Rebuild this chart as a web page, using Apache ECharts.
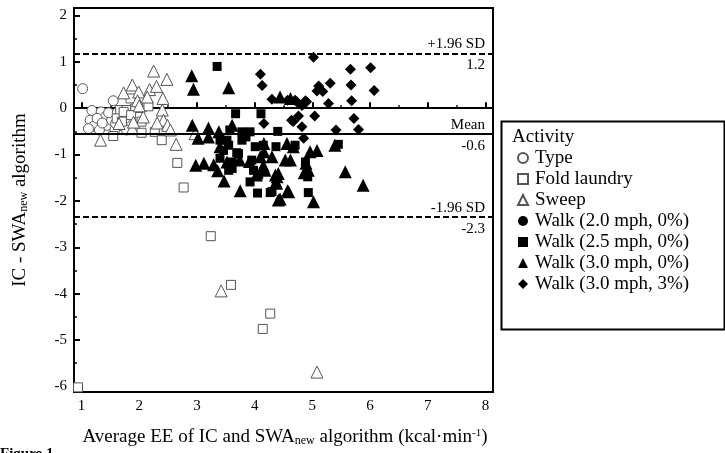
<!DOCTYPE html>
<html>
<head>
<meta charset="utf-8">
<script src="https://cdn.jsdelivr.net/npm/echarts@6/dist/echarts.min.js"></script>
<style>
  html, body { margin: 0; padding: 0; background: #fff; }
  #main { width: 725px; height: 453px; }
</style>
</head>
<body>
<div id="main"></div>
<script>
// tick labels
const xTicks = [1, 2, 3, 4, 5, 6, 7, 8];
const xMinor = [1.5, 2.5, 3.5, 4.5, 5.5, 6.5, 7.5];
const yTicks = [-6, -5, -4, -3, -2, -1, 0, 1, 2];
const yMinor = [-5.5, -4.5, -3.5, -2.5, -1.5, -0.5, 0.5, 1.5];

// limits of agreement: position, text above, text below
const limitValues = [1.17, -0.56, -2.35];
const limitNames = ['+1.96 SD', 'Mean', '-1.96 SD'];
const limitLabels = ['1.2', '-0.6', '-2.3'];

// [average EE, difference]
const typeData = [
  [1.02, 0.42], [1.55, 0.16], [1.18, -0.05], [1.34, -0.08], [1.15, -0.26],
  [1.21, -0.39], [1.41, -0.19], [1.44, -0.37], [1.31, -0.47], [1.58, -0.46],
  [1.12, -0.44], [1.52, -0.26], [1.67, -0.37], [1.76, -0.22], [1.78, -0.47],
  [1.27, -0.22], [1.59, -0.33], [1.47, -0.10], [1.62, -0.10], [1.36, -0.32]
];
const foldData = [
  [1.67, -0.04], [1.78, -0.04], [1.93, -0.01], [2.04, 0.02], [2.16, 0.04],
  [1.85, 0.21], [1.99, -0.19], [1.61, -0.22], [1.70, -0.29], [2.04, -0.29],
  [2.27, -0.51], [2.39, -0.69], [2.04, -0.53], [1.55, -0.60], [1.73, -0.08],
  [1.86, -0.15], [2.66, -1.18], [2.77, -1.71], [3.24, -2.76], [3.59, -3.81],
  [4.27, -4.43], [4.14, -4.76], [0.94, -6.02]
];
const sweepData = [
  [2.25, 0.80], [2.48, 0.62], [1.88, 0.50], [1.99, 0.35], [2.18, 0.40],
  [2.30, 0.47], [1.73, 0.33], [2.14, 0.24], [2.41, 0.21], [1.97, 0.16],
  [2.40, -0.04], [2.42, -0.26], [2.31, -0.32], [2.49, -0.37], [2.54, -0.47],
  [1.88, -0.44], [2.07, -0.19], [1.33, -0.69], [2.64, -0.78], [1.65, -0.33],
  [2.00, 0.05], [1.90, -0.30], [2.97, -0.55], [3.42, -3.94], [5.08, -5.69]
];
const walk20Data = [];
const walk25Data = [
  [3.35, 0.90], [3.67, -0.12], [4.11, -0.12], [3.57, -0.47], [3.78, -0.51],
  [3.92, -0.51], [3.40, -0.69], [3.55, -0.80], [3.78, -0.69], [4.01, -0.83],
  [4.15, -0.80], [3.46, -0.91], [3.69, -0.96], [3.40, -1.08], [3.61, -1.16],
  [3.95, -1.12], [3.55, -1.34], [3.98, -1.34], [3.92, -1.59], [4.07, -1.44],
  [4.05, -1.83], [4.27, -1.82], [4.37, -0.83], [4.40, -0.50], [4.93, -1.82],
  [4.88, -1.16], [3.52, -0.69], [5.45, -0.78], [3.61, -1.30], [4.92, -1.48],
  [4.30, -1.80], [4.70, -0.80], [3.72, -0.98], [3.85, -0.62]
];
const walk30Data = [
  [2.91, 0.70], [2.94, 0.41], [3.55, 0.44], [2.92, -0.37], [3.20, -0.43],
  [3.02, -0.65], [3.38, -0.51], [2.98, -1.23], [3.12, -1.19], [3.29, -1.22],
  [3.36, -1.35], [3.47, -1.57], [3.75, -1.78], [3.52, -1.16], [3.91, -1.15],
  [3.74, -1.12], [3.61, -0.37], [3.20, -0.62], [3.40, -0.83], [4.10, -1.05],
  [4.15, -1.24], [4.36, -1.44], [4.16, -0.76], [4.16, -0.94], [4.03, -1.44],
  [4.18, -1.34], [4.44, 0.24], [4.62, 0.21], [4.56, -0.76], [4.53, -1.12],
  [4.62, -1.12], [4.39, -1.48], [4.37, -1.59], [4.57, -1.78], [4.44, -1.96],
  [4.86, -1.39], [4.89, -1.19], [5.02, -2.02], [4.96, -0.94], [5.08, -0.91],
  [5.39, -0.80], [5.57, -1.37], [5.88, -1.66], [4.30, -1.05], [4.67, -0.83],
  [4.93, -1.34], [4.41, -1.41], [4.38, -1.62], [4.59, -1.80], [4.41, -1.98]
];
const walk30GradeData = [
  [4.10, 0.73], [4.13, 0.49], [4.30, 0.19], [4.57, 0.17], [4.70, 0.17],
  [4.88, 0.16], [5.02, 1.10], [5.11, 0.48], [5.31, 0.54], [5.18, 0.36],
  [5.28, 0.10], [5.04, -0.17], [4.76, -0.17], [4.67, -0.29], [4.82, -0.40],
  [4.16, -0.33], [4.85, -0.65], [5.41, -0.47], [5.66, 0.84], [6.01, 0.87],
  [5.67, 0.50], [6.07, 0.38], [5.68, 0.16], [5.72, -0.22], [5.80, -0.46],
  [4.82, 0.06], [4.64, -0.26], [4.73, 0.14], [5.08, 0.37], [4.90, 0.14]
];

const serif = 'Liberation Serif';
const openStyle = { color: '#fff', borderColor: '#555', borderWidth: 1, opacity: 1 };
const fillStyle = { color: '#000', opacity: 1 };

const chart = echarts.init(document.getElementById('main'));

// reference lines: one line per limit with the name above, an invisible twin with the value below
let limitMarks = [];
limitValues.forEach(function (v, i) {
  const lineType = i === 1 ? 'solid' : [6, 3];
  limitMarks.push({
    yAxis: v,
    lineStyle: { color: '#000', width: 2, type: lineType },
    label: { position: 'insideEndTop', formatter: limitNames[i], distance: [8, 2] }
  });
  limitMarks.push({
    yAxis: v,
    lineStyle: { color: 'rgba(0,0,0,0)', width: 0 },
    label: { position: 'insideEndBottom', formatter: limitLabels[i], distance: [8, 4] }
  });
});

function scatter(name, data, symbol, size, style) {
  return {
    name: name,
    type: 'scatter',
    data: data,
    symbol: symbol,
    symbolSize: size,
    itemStyle: style,
    emphasis: { disabled: true },
    z: 3
  };
}

let series = [
  scatter('Type', typeData, 'circle', 10, openStyle),
  scatter('Fold laundry', foldData, 'rect', 9, openStyle),
  scatter('Sweep', sweepData, 'triangle', 12, openStyle),
  scatter('Walk (2.0 mph, 0%)', walk20Data, 'circle', 10, fillStyle),
  scatter('Walk (2.5 mph, 0%)', walk25Data, 'rect', 9, fillStyle),
  scatter('Walk (3.0 mph, 0%)', walk30Data, 'triangle', 13, fillStyle),
  scatter('Walk (3.0 mph, 3%)', walk30GradeData, 'diamond', 11, fillStyle)
];
series.push({
  type: 'scatter',
  data: [],
  markLine: {
    silent: true,
    symbol: 'none',
    animation: false,
    label: { color: '#000', fontFamily: serif, fontSize: 15 },
    data: limitMarks
  },
  z: 2
});

const option = {
  animation: false,
  grid: {
    left: 74, top: 8, width: 419, height: 384,
    show: true, borderColor: '#000', borderWidth: 2
  },
  xAxis: [{
    type: 'value', min: 0.87, max: 8.13,
    splitLine: { show: false },
    axisLine: { lineStyle: { color: '#000', width: 2 } },
    axisTick: { inside: true, length: 6, customValues: xTicks, lineStyle: { color: '#000', width: 2 } },
    axisLabel: { customValues: xTicks, color: '#000', fontFamily: serif, fontSize: 15, margin: 7 }
  }, {
    type: 'value', min: 0.87, max: 8.13, position: 'bottom',
    splitLine: { show: false },
    axisLine: { show: false },
    axisTick: { inside: true, length: 3, customValues: xMinor, lineStyle: { color: '#000', width: 1.5 } },
    axisLabel: { show: false }
  }],
  yAxis: [{
    type: 'value', min: -6.12, max: 2.16,
    splitLine: { show: false },
    axisLine: { lineStyle: { color: '#000', width: 2 } },
    axisTick: { inside: true, length: 6, customValues: yTicks, lineStyle: { color: '#000', width: 2 } },
    axisLabel: { customValues: yTicks, color: '#000', fontFamily: serif, fontSize: 15, margin: 7 }
  }, {
    type: 'value', min: -6.12, max: 2.16, position: 'left',
    splitLine: { show: false },
    axisLine: { show: false },
    axisTick: { inside: true, length: 3, customValues: yMinor, lineStyle: { color: '#000', width: 1.5 } },
    axisLabel: { show: false }
  }],
  legend: {
    orient: 'vertical',
    left: 512, top: 143,
    itemWidth: 10, itemHeight: 10,
    itemGap: 1,
    selectedMode: false,
    textStyle: { color: '#000', fontFamily: serif, fontSize: 19, lineHeight: 20, padding: [0, 0, 0, 2] },
    data: series.slice(0, 7).map(function (s) { return s.name; })
  },
  graphic: [
    {
      type: 'rect', left: 499, top: 119, silent: true,
      shape: { width: 223, height: 208 },
      style: { fill: 'none', stroke: '#000', lineWidth: 2 }
    },
    {
      type: 'text', left: 512, top: 128, silent: true,
      style: { text: 'Activity', font: '19px "Liberation Serif"', fill: '#000' }
    },
    {
      type: 'text', x: 285, y: 437, silent: true,
      style: {
        text: 'Average EE of IC and SWA{sub|new} algorithm (kcal·min{sup|-1})',
        font: '19px "Liberation Serif"', fill: '#000',
        align: 'center', verticalAlign: 'middle',
        rich: {
          sub: { fontSize: 12, fontFamily: serif, verticalAlign: 'bottom', lineHeight: 12 },
          sup: { fontSize: 11, fontFamily: serif, verticalAlign: 'top', lineHeight: 11 }
        }
      }
    },
    {
      type: 'text', x: 20, y: 200, rotation: Math.PI / 2, silent: true,
      style: {
        text: 'IC - SWA{sub|new} algorithm',
        font: '19px "Liberation Serif"', fill: '#000',
        align: 'center', verticalAlign: 'middle',
        rich: {
          sub: { fontSize: 12, fontFamily: serif, verticalAlign: 'bottom', lineHeight: 12 }
        }
      }
    },
    {
      type: 'text', left: 0, top: 447, silent: true,
      style: { text: 'Figure 1', font: 'bold 15px "Liberation Serif"', fill: '#000' }
    }
  ],
  series: series
};

chart.setOption(option);
</script>
</body>
</html>
